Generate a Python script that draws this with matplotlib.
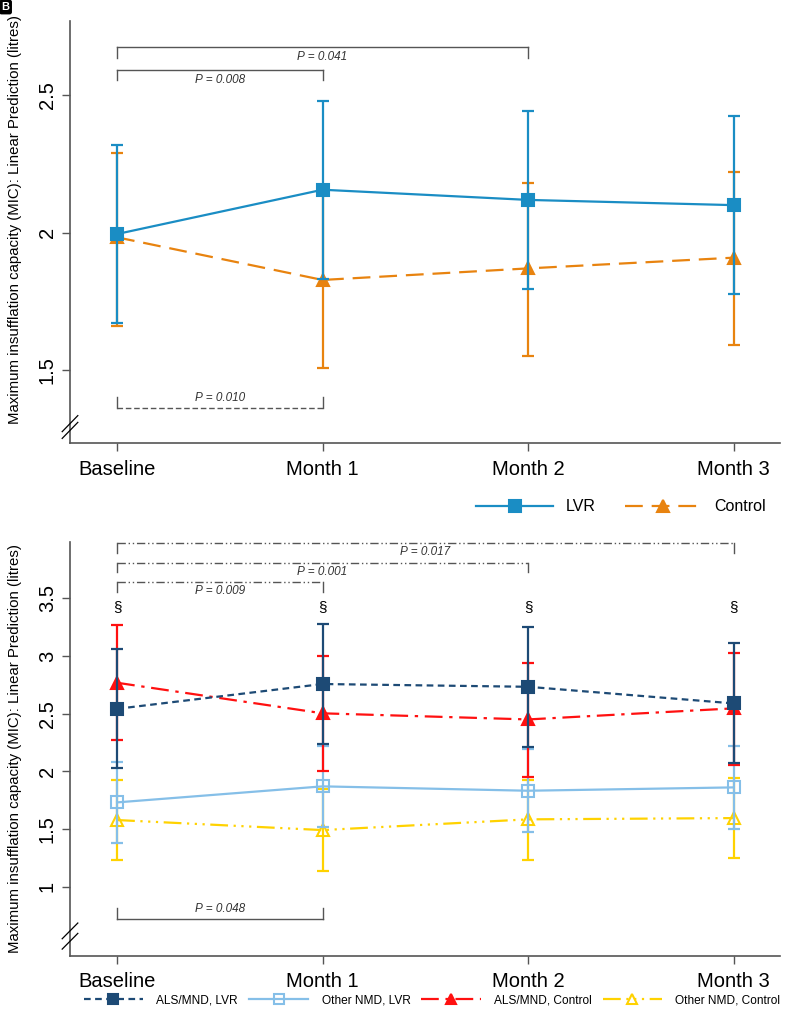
import matplotlib as mpl
mpl.use('Agg')
import matplotlib.pyplot as plt

plt.rcParams['font.family'] = ['Liberation Sans', 'DejaVu Sans']

timepoints = ['Baseline', 'Month 1', 'Month 2', 'Month 3']

# Panel A: LVR vs Control
lvr_mean = [1.995, 2.156, 2.119, 2.100]
lvr_lo = [1.672, 1.832, 1.795, 1.776]
lvr_hi = [2.318, 2.480, 2.444, 2.425]
ctl_mean = [1.983, 1.828, 1.870, 1.909]
ctl_lo = [1.662, 1.509, 1.553, 1.592]
ctl_hi = [2.291, 2.148, 2.182, 2.222]

# Panel B: by diagnosis
als_lvr_mean = [2.542, 2.757, 2.733, 2.589]
als_lvr_lo = [2.026, 2.234, 2.208, 2.072]
als_lvr_hi = [3.057, 3.279, 3.248, 3.114]
oth_lvr_mean = [1.731, 1.870, 1.832, 1.861]
oth_lvr_lo = [1.376, 1.517, 1.474, 1.503]
oth_lvr_hi = [2.083, 2.223, 2.193, 2.222]
als_ctl_mean = [2.768, 2.503, 2.450, 2.546]
als_ctl_lo = [2.271, 2.003, 1.953, 2.052]
als_ctl_hi = [3.265, 2.996, 2.941, 3.028]
oth_ctl_mean = [1.578, 1.491, 1.584, 1.595]
oth_ctl_lo = [1.229, 1.136, 1.229, 1.246]
oth_ctl_hi = [1.925, 1.850, 1.927, 1.942]

ylabel = 'Maximum insufflation capacity (MIC): Linear Prediction (litres)'
x = list(range(len(timepoints)))
spine_c = '#555555'
text_c = '#333333'


def series(ax, mean, lo, hi, color, ls, marker, mfc, label, z):
	err = [[m - l for m, l in zip(mean, lo)], [h - m for m, h in zip(mean, hi)]]
	ax.errorbar(x, mean, yerr=err, fmt='none', ecolor=color, elinewidth=1.6,
		capsize=4, capthick=1.6, zorder=z)
	ln, = ax.plot(x, mean, color=color, ls=ls, lw=1.6, marker=marker, ms=8,
		mfc=mfc, mec=color, mew=1.5, label=label, zorder=z + 0.5)
	return ln


def bracket(ax, x0, x1, y, tick_y, text, ty, va, ls='-'):
	ax.plot([x0, x1], [y, y], color=spine_c, lw=1, ls=ls, zorder=1)
	ax.plot([x0, x0], [y, tick_y], color=spine_c, lw=1, ls='-', zorder=1)
	ax.plot([x1, x1], [y, tick_y], color=spine_c, lw=1, ls='-', zorder=1)
	ax.text((x0 + x1) / 2.0, ty, text, ha='center', va=va, fontsize=8.5,
		style='italic', color=text_c)


def style_axes(ax, ylim, yticks, label_y):
	ax.set_xlim(-0.229, 3.226)
	ax.set_ylim(*ylim)
	ax.set_xticks(x)
	ax.set_xticklabels(timepoints, fontsize=14.5)
	ax.set_yticks(yticks)
	ax.set_yticklabels(['%g' % t for t in yticks], fontsize=14.5, rotation=90, va='center')
	ax.spines['top'].set_visible(False)
	ax.spines['right'].set_visible(False)
	for s in ['left', 'bottom']:
		ax.spines[s].set_color(spine_c)
		ax.spines[s].set_linewidth(1.2)
	ax.tick_params(colors=spine_c, labelcolor='black', length=6, width=1)
	ax.tick_params(axis='x', pad=6)
	ax.set_ylabel(ylabel, fontsize=10.8)
	ax.yaxis.set_label_coords(-0.067, label_y)


def break_mark(ax, yc_list):
	for yc in yc_list:
		ax.plot([-0.011, 0.011], [yc - 0.019, yc + 0.019], transform=ax.transAxes,
			color='black', lw=0.9, clip_on=False, zorder=5)


fig = plt.figure(figsize=(8, 10.28), dpi=100)

# ---- panel A
ax1 = fig.add_axes([0.0875, 0.569, 0.8875, 0.411])
c_blue = '#1a8dc4'
c_orng = '#e8830f'
h_ctl = series(ax1, ctl_mean, ctl_lo, ctl_hi, c_orng, (0, (8, 4)), '^', c_orng, 'Control', 2)
h_lvr = series(ax1, lvr_mean, lvr_lo, lvr_hi, c_blue, '-', 's', c_blue, 'LVR', 3)
style_axes(ax1, (1.235, 2.771), [1.5, 2, 2.5], 0.528)
break_mark(ax1, [0.03, 0.046])

bracket(ax1, 0, 2, 2.676, 2.636, 'P = 0.041', 2.662, 'top')
bracket(ax1, 0, 1, 2.592, 2.555, 'P = 0.008', 2.578, 'top')
bracket(ax1, 0, 1, 1.3625, 1.4025, 'P = 0.010', 1.378, 'bottom', ls=(0, (4, 2)))

fig.legend(handles=[h_lvr, h_ctl], loc='center right', bbox_to_anchor=(0.975, 0.507),
	ncol=2, frameon=False, fontsize=11.5, handlelength=4.8, handletextpad=0.8,
	columnspacing=1.8, numpoints=1)

# ---- panel B
ax2 = fig.add_axes([0.0875, 0.0703, 0.8875, 0.4027])
c_navy = '#1d4a75'
c_lblu = '#85bfe8'
c_red = '#ff1010'
c_gold = '#ffd200'
h1 = series(ax2, als_lvr_mean, als_lvr_lo, als_lvr_hi, c_navy, (0, (3, 2)), 's', c_navy, 'ALS/MND, LVR', 4)
h2 = series(ax2, oth_lvr_mean, oth_lvr_lo, oth_lvr_hi, c_lblu, '-', 's', 'none', 'Other NMD, LVR', 2)
h3 = series(ax2, als_ctl_mean, als_ctl_lo, als_ctl_hi, c_red, (0, (8, 3, 1.5, 3)), '^', c_red, 'ALS/MND, Control', 3)
h4 = series(ax2, oth_ctl_mean, oth_ctl_lo, oth_ctl_hi, c_gold, (0, (8, 2.5, 1, 2.5, 1, 2.5, 1, 2.5)), '^', 'none', 'Other NMD, Control', 1)
style_axes(ax2, (0.402, 3.99), [1, 1.5, 2, 2.5, 3, 3.5], 0.5)
break_mark(ax2, [0.035, 0.06])

dd = (0, (6, 2, 1, 2, 1, 2))
bracket(ax2, 0, 3, 3.976, 3.892, 'P = 0.017', 3.95, 'top', ls=dd)
bracket(ax2, 0, 2, 3.808, 3.727, 'P = 0.001', 3.783, 'top', ls=dd)
bracket(ax2, 0, 1, 3.638, 3.554, 'P = 0.009', 3.614, 'top', ls=dd)
bracket(ax2, 0, 1, 0.72, 0.815, 'P = 0.048', 0.755, 'bottom')
for xi in x:
	ax2.text(xi, 3.426, '\u00a7', ha='center', va='center', fontsize=11, color='black')

fig.legend(handles=[h1, h2, h3, h4], loc='center', bbox_to_anchor=(0.54, 0.027),
	ncol=4, frameon=False, fontsize=8.6, handlelength=5.0, handletextpad=1.1,
	columnspacing=0.9, numpoints=1, markerscale=0.85)

fig.text(0.002, 0.998, 'B', fontsize=8, color='white', fontweight='bold', ha='left', va='top',
	bbox=dict(boxstyle='round,pad=0.15', fc='black', ec='black'))

fig.savefig('out.png', dpi=100)
